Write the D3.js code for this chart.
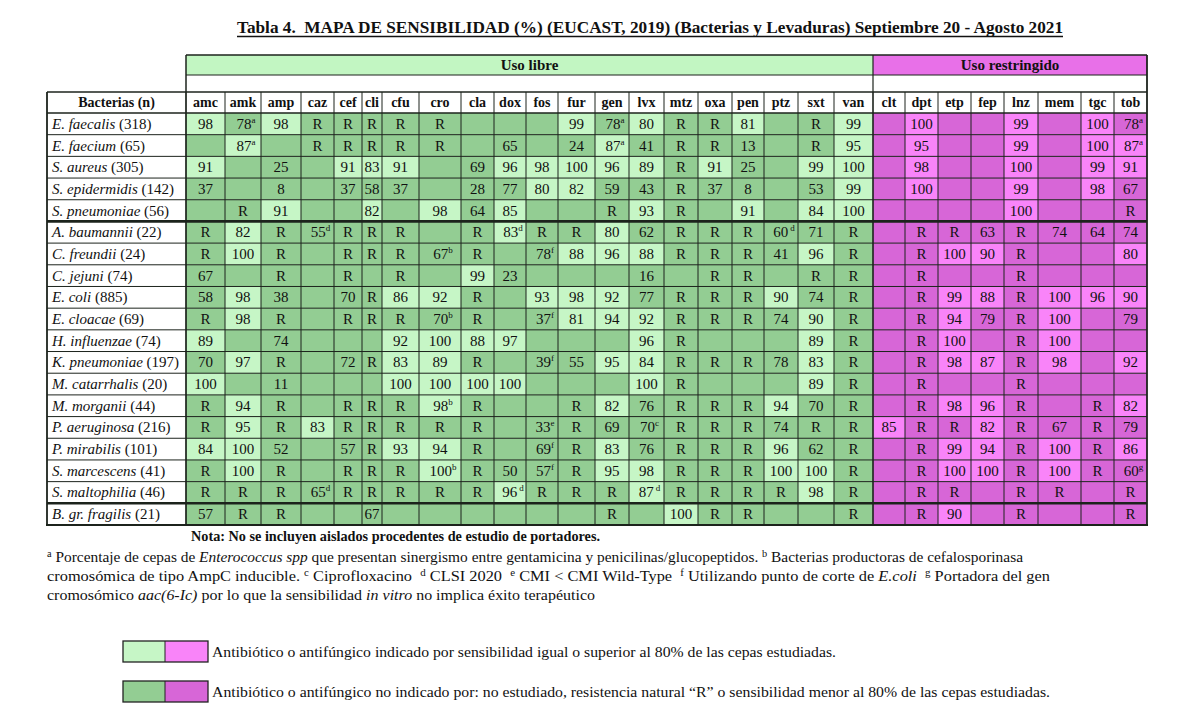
<!DOCTYPE html>
<html>
<head>
<meta charset="utf-8">
<script src="https://cdn.jsdelivr.net/npm/d3@7"></script>
<style>
    body { margin: 0; background: #fff; }
    svg { display: block; }
    text { font-family: "Liberation Serif", "Times New Roman", serif; fill: #111; white-space: pre; }
</style>
</head>
<body>
<div id="chart"></div>
<script>
// Antibiotic columns
const colsLibre = ['amc', 'amk', 'amp', 'caz', 'cef', 'cli', 'cfu', 'cro', 'cla', 'dox', 'fos', 'fur', 'gen', 'lvx', 'mtz', 'oxa', 'pen', 'ptz', 'sxt', 'van'];
const colsRestr = ['clt', 'dpt', 'etp', 'fep', 'lnz', 'mem', 'tgc', 'tob'];

// Bacteria rows: name and number of strains
const bacteria = ['E. faecalis', 'E. faecium', 'S. aureus', 'S. epidermidis', 'S. pneumoniae',
    'A. baumannii', 'C. freundii', 'C. jejuni', 'E. coli', 'E. cloacae', 'H. influenzae', 'K. pneumoniae',
    'M. catarrhalis', 'M. morganii', 'P. aeruginosa', 'P. mirabilis', 'S. marcescens', 'S. maltophilia', 'B. gr. fragilis'];
const strains = [318, 65, 305, 142, 56, 22, 24, 74, 885, 69, 74, 197, 20, 44, 216, 101, 41, 46, 21];

// Sensitivity (%) per row, free-use columns then restricted columns ('' = not studied, letter = footnote)
const sensLibre = [
    ['98', '78a', '98', 'R', 'R', 'R', 'R', 'R', '', '', '', '99', '78a', '80', 'R', 'R', '81', '', 'R', '99'],
    ['', '87a', '', 'R', 'R', 'R', 'R', 'R', '', '65', '', '24', '87a', '41', 'R', 'R', '13', '', 'R', '95'],
    ['91', '', '25', '', '91', '83', '91', '', '69', '96', '98', '100', '96', '89', 'R', '91', '25', '', '99', '100'],
    ['37', '', '8', '', '37', '58', '37', '', '28', '77', '80', '82', '59', '43', 'R', '37', '8', '', '53', '99'],
    ['', 'R', '91', '', '', '82', '', '98', '64', '85', '', '', 'R', '93', 'R', '', '91', '', '84', '100'],
    ['R', '82', 'R', '55d', 'R', 'R', 'R', '', 'R', '83d', 'R', 'R', '80', '62', 'R', 'R', 'R', '60 d', '71', 'R'],
    ['R', '100', 'R', '', 'R', 'R', 'R', '67b', 'R', '', '78f', '88', '96', '88', 'R', 'R', 'R', '41', '96', 'R'],
    ['67', '', 'R', '', 'R', '', 'R', '', '99', '23', '', '', '', '16', '', 'R', 'R', '', 'R', 'R'],
    ['58', '98', '38', '', '70', 'R', '86', '92', 'R', '', '93', '98', '92', '77', 'R', 'R', 'R', '90', '74', 'R'],
    ['R', '98', 'R', '', 'R', 'R', 'R', '70b', 'R', '', '37f', '81', '94', '92', 'R', 'R', 'R', '74', '90', 'R'],
    ['89', '', '74', '', '', '', '92', '100', '88', '97', '', '', '', '96', 'R', '', '', '', '89', 'R'],
    ['70', '97', 'R', '', '72', 'R', '83', '89', 'R', '', '39f', '55', '95', '84', 'R', 'R', 'R', '78', '83', 'R'],
    ['100', '', '11', '', '', '', '100', '100', '100', '100', '', '', '', '100', 'R', '', '', '', '89', 'R'],
    ['R', '94', 'R', '', 'R', 'R', 'R', '98b', 'R', '', '', 'R', '82', '76', 'R', 'R', 'R', '94', '70', 'R'],
    ['R', '95', 'R', '83', 'R', 'R', 'R', 'R', 'R', '', '33e', 'R', '69', '70c', 'R', 'R', 'R', '74', 'R', 'R'],
    ['84', '100', '52', '', '57', 'R', '93', '94', 'R', '', '69f', 'R', '83', '76', 'R', 'R', 'R', '96', '62', 'R'],
    ['R', '100', 'R', '', 'R', 'R', 'R', '100b', 'R', '50', '57f', 'R', '95', '98', 'R', 'R', 'R', '100', '100', 'R'],
    ['R', 'R', 'R', '65d', 'R', 'R', 'R', 'R', 'R', '96 d', 'R', 'R', 'R', '87 d', 'R', 'R', 'R', 'R', '98', 'R'],
    ['57', 'R', 'R', '', '', '67', '', '', '', '', '', '', 'R', '', '100', 'R', 'R', '', '', 'R']
];
const sensRestr = [
    ['', '100', '', '', '99', '', '100', '78a'],
    ['', '95', '', '', '99', '', '100', '87a'],
    ['', '98', '', '', '100', '', '99', '91'],
    ['', '100', '', '', '99', '', '98', '67'],
    ['', '', '', '', '100', '', '', 'R'],
    ['', 'R', 'R', '63', 'R', '74', '64', '74'],
    ['', 'R', '100', '90', 'R', '', '', '80'],
    ['', 'R', '', '', 'R', '', '', ''],
    ['', 'R', '99', '88', 'R', '100', '96', '90'],
    ['', 'R', '94', '79', 'R', '100', '', '79'],
    ['', 'R', '100', '', 'R', '100', '', ''],
    ['', 'R', '98', '87', 'R', '98', '', '92'],
    ['', 'R', '', '', 'R', '', '', ''],
    ['', 'R', '98', '96', 'R', '', 'R', '82'],
    ['85', 'R', 'R', '82', 'R', '67', 'R', '79'],
    ['', 'R', '99', '94', 'R', '100', 'R', '86'],
    ['', 'R', '100', '100', 'R', '100', 'R', '60g'],
    ['', 'R', 'R', '', 'R', 'R', '', 'R'],
    ['', 'R', '90', '', 'R', '', '', 'R']
];
const threshold = 80;

// Layout
const width = 1200, height = 725;
const colWidths = [39, 36, 40, 33, 28, 20, 37, 42, 33, 32, 32, 37, 34, 35, 34, 34, 32, 34, 36, 39,
                   32, 33, 33, 33, 34, 43, 33, 33];
const tableLeft = 47, firstCol = 186, bandTop = 55, bandBottom = 75, headTop = 92, rowsTop = 113, rowsBottom = 525;
const colors = {
    libreLight: '#c6f6c6', libreDark: '#93cd93',
    restrLight: '#f984f9', restrDark: '#d766d7',
    bandLibre: '#c2f6c2', bandRestr: '#e870e8',
    line: '#1c231c'
};

const allCols = colsLibre.concat(colsRestr);
const edges = [];
colWidths.reduce((acc, w) => { edges.push(acc); return acc + w; }, firstCol);
const tableRight = firstCol + d3.sum(colWidths);

const x = d3.scaleOrdinal().domain(allCols).range(edges);
const w = d3.scaleOrdinal().domain(allCols).range(colWidths);
const y = d3.scaleBand().domain(bacteria).range([rowsTop, rowsBottom]);

const svg = d3.select('#chart').append('svg')
    .attr('width', width)
    .attr('height', height);

// Title
svg.append('text')
    .attr('x', 237).attr('y', 33)
    .attr('textLength', 826).attr('lengthAdjust', 'spacingAndGlyphs')
    .style('font-size', '17px').style('font-weight', 'bold')
    .text('Tabla 4.  MAPA DE SENSIBILIDAD (%) (EUCAST, 2019) (Bacterias y Levaduras) Septiembre 20 - Agosto 2021');
svg.append('line')
    .attr('x1', 237).attr('x2', 1063).attr('y1', 36.5).attr('y2', 36.5)
    .style('stroke', '#111').style('stroke-width', '1.3px');

// Group bands
const libreRight = x('clt');
svg.append('rect').attr('x', firstCol).attr('y', bandTop).attr('width', libreRight - firstCol).attr('height', bandBottom - bandTop)
    .style('fill', colors.bandLibre);
svg.append('rect').attr('x', libreRight).attr('y', bandTop).attr('width', tableRight - libreRight).attr('height', bandBottom - bandTop)
    .style('fill', colors.bandRestr);
svg.append('text').attr('x', (firstCol + libreRight) / 2).attr('y', 70).attr('text-anchor', 'middle')
    .style('font-size', '15px').style('font-weight', 'bold').text('Uso libre');
svg.append('text').attr('x', (libreRight + tableRight) / 2).attr('y', 70).attr('text-anchor', 'middle')
    .style('font-size', '15px').style('font-weight', 'bold').text('Uso restringido');

// Header row
svg.append('text').attr('x', (tableLeft + firstCol) / 2).attr('y', headTop + 15).attr('text-anchor', 'middle')
    .style('font-size', '14px').style('font-weight', 'bold').text('Bacterias (n)');
allCols.forEach(c => {
    svg.append('text').attr('x', x(c) + w(c) / 2).attr('y', headTop + 15).attr('text-anchor', 'middle')
        .style('font-size', '14px').style('font-weight', 'bold').text(c);
});

// Cells
function cellFill(value, restricted) {
    const m = /^(\d+)/.exec(value);
    const light = m && +m[1] >= threshold;
    if(restricted) return light ? colors.restrLight : colors.restrDark;
    return light ? colors.libreLight : colors.libreDark;
}

bacteria.forEach((b, i) => {
    const rowVals = sensLibre[i].concat(sensRestr[i]);
    const yy = y(b);

    // Bacteria label
    const label = svg.append('text').attr('x', tableLeft + 5).attr('y', yy + y.bandwidth() / 2 + 5)
        .style('font-size', '15px');
    label.append('tspan').style('font-style', 'italic').text(b);
    label.append('tspan').text(' (' + strains[i] + ')');

    rowVals.forEach((v, j) => {
        const c = allCols[j];
        const restricted = j >= colsLibre.length;
        svg.append('rect')
            .attr('x', x(c)).attr('y', yy)
            .attr('width', w(c)).attr('height', y.bandwidth())
            .style('fill', cellFill(v, restricted));

        if(v === '') return;
        const m = /^(\d+|R)\s*([a-g])?$/.exec(v);
        const t = svg.append('text')
            .attr('x', x(c) + w(c) / 2 + (m[2] ? 3 : 0))
            .attr('y', yy + y.bandwidth() / 2 + 5)
            .attr('text-anchor', 'middle')
            .style('font-size', '15px');
        t.append('tspan').text(m[1]);
        if(m[2]) {
            t.append('tspan').attr('dy', -6).attr('dx', /\s/.test(v) ? 2 : 0)
                .style('font-size', '9px').text(m[2]);
        }
    });
});

// Grid lines
const grid = svg.append('g').style('stroke', colors.line).style('fill', 'none');
// horizontal: band and header
grid.append('line').attr('x1', firstCol).attr('x2', tableRight).attr('y1', bandTop).attr('y2', bandTop).style('stroke-width', '1.5px');
grid.append('line').attr('x1', firstCol).attr('x2', tableRight).attr('y1', bandBottom).attr('y2', bandBottom).style('stroke-width', '1.2px');
grid.append('line').attr('x1', tableLeft).attr('x2', tableRight).attr('y1', headTop).attr('y2', headTop).style('stroke-width', '1.5px');
bacteria.forEach((b, i) => {
    const thick = i === 0 || i === 5 || i === 18;
    grid.append('line').attr('x1', tableLeft).attr('x2', tableRight)
        .attr('y1', y(b)).attr('y2', y(b))
        .style('stroke-width', thick ? (i === 0 ? '1.3px' : '2.6px') : '1px');
});
grid.append('line').attr('x1', tableLeft - 1).attr('x2', tableRight + 1).attr('y1', rowsBottom).attr('y2', rowsBottom).style('stroke-width', '2.2px');
// vertical
grid.append('line').attr('x1', tableLeft).attr('x2', tableLeft).attr('y1', headTop).attr('y2', rowsBottom).style('stroke-width', '1.8px');
allCols.forEach(c => {
    grid.append('line').attr('x1', x(c)).attr('x2', x(c)).attr('y1', headTop).attr('y2', rowsBottom).style('stroke-width', '1px');
});
grid.append('line').attr('x1', firstCol).attr('x2', firstCol).attr('y1', bandTop).attr('y2', headTop).style('stroke-width', '1.5px');
grid.append('line').attr('x1', libreRight).attr('x2', libreRight).attr('y1', bandTop).attr('y2', rowsBottom).style('stroke-width', '1.2px');
grid.append('line').attr('x1', tableRight).attr('x2', tableRight).attr('y1', bandTop).attr('y2', rowsBottom).style('stroke-width', '1.8px');
grid.append('line').attr('x1', firstCol).attr('x2', firstCol).attr('y1', headTop).attr('y2', rowsBottom).style('stroke-width', '1.4px');

// Notes
svg.append('text').attr('x', 191).attr('y', 541)
    .attr('textLength', 409).attr('lengthAdjust', 'spacingAndGlyphs')
    .style('font-size', '14px').style('font-weight', 'bold')
    .text('Nota: No se incluyen aislados procedentes de estudio de portadores.');

const footnotes = [
    { y: 562, len: 976, parts: [['a', 'sup'], [' Porcentaje de cepas de '], ['Enterococcus spp', 'i'], [' que presentan sinergismo entre gentamicina y penicilinas/glucopeptidos. '], ['b', 'sup'], [' Bacterias productoras de cefalosporinasa']] },
    { y: 581, len: 1003, parts: [['cromosómica de tipo AmpC inducible. '], ['c', 'sup'], [' Ciprofloxacino  '], ['d', 'sup'], [' CLSI 2020  '], ['e', 'sup'], [' CMI < CMI Wild-Type  '], ['f', 'sup'], [' Utilizando punto de corte de '], ['E.coli', 'i'], ['  '], ['g', 'sup'], [' Portadora del gen']] },
    { y: 600, len: 548, parts: [['cromosómico '], ['aac(6-Ic)', 'i'], [' por lo que la sensibilidad '], ['in vitro', 'i'], [' no implica éxito terapéutico']] }
];
footnotes.forEach(f => {
    const t = svg.append('text').attr('x', 47).attr('y', f.y)
        .attr('textLength', f.len).attr('lengthAdjust', 'spacingAndGlyphs')
        .style('font-size', '15px');
    f.parts.forEach(p => {
        const s = t.append('tspan').text(p[0]);
        if(p[1] === 'i') s.style('font-style', 'italic');
        if(p[1] === 'sup') s.style('font-size', '10px').attr('baseline-shift', 'super');
    });
});

// Legend
const legend = [
    { y: 641, fills: [colors.libreLight, colors.restrLight], len: 624, text: 'Antibiótico o antifúngico indicado por sensibilidad igual o superior al 80% de las cepas estudiadas.' },
    { y: 681, fills: [colors.libreDark, colors.restrDark], len: 838, text: 'Antibiótico o antifúngico no indicado por: no estudiado, resistencia natural “R” o sensibilidad menor al 80% de las cepas estudiadas.' }
];
legend.forEach(l => {
    svg.append('rect').attr('x', 123).attr('y', l.y).attr('width', 42).attr('height', 21).style('fill', l.fills[0]);
    svg.append('rect').attr('x', 165).attr('y', l.y).attr('width', 43).attr('height', 21).style('fill', l.fills[1]);
    svg.append('rect').attr('x', 123).attr('y', l.y).attr('width', 85).attr('height', 21)
        .style('fill', 'none').style('stroke', '#222').style('stroke-width', '1.3px');
    svg.append('line').attr('x1', 165).attr('x2', 165).attr('y1', l.y).attr('y2', l.y + 21)
        .style('stroke', '#222').style('stroke-width', '1px');
    svg.append('text').attr('x', 212).attr('y', l.y + 16)
        .attr('textLength', l.len).attr('lengthAdjust', 'spacingAndGlyphs')
        .style('font-size', '15px').text(l.text);
});
</script>
</body>
</html>
